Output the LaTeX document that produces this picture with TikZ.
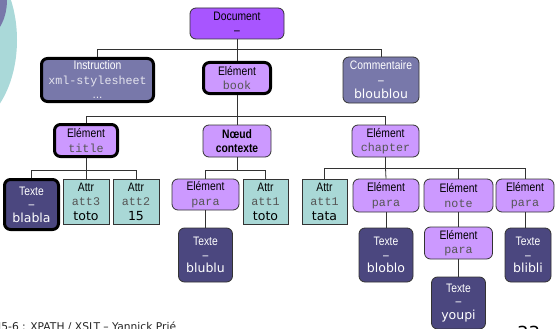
\documentclass[tikz,border=0pt]{standalone}
\usepackage{fontspec}
\setmainfont{Liberation Sans}
\newfontfamily\labfont[FakeStretch=0.84]{Liberation Sans}
\newfontfamily\codefont{Liberation Mono}
\newfontfamily\valfont{DejaVu Sans}

\definecolor{docfill}{HTML}{A855FF}
\definecolor{elemfill}{HTML}{CC99FF}
\definecolor{slatefill}{HTML}{7878AA}
\definecolor{navyfill}{HTML}{4B477F}
\definecolor{attrfill}{HTML}{A9D8D6}
\definecolor{tealdeco}{HTML}{AAD9D9}
\definecolor{boxline}{HTML}{333333}
\definecolor{codegrey}{HTML}{555555}
\definecolor{codelight}{HTML}{E4E4EE}

\newcommand\lbl[1]{{\labfont\fontsize{12.3}{14}\selectfont #1}}
\newcommand\lblb[1]{{\labfont\bfseries\fontsize{12.3}{14}\selectfont #1}}
\newcommand\code[1]{{\codefont\fontsize{11.7}{14}\selectfont #1}}
\newcommand\vtxt[1]{{\valfont\fontsize{12.5}{14}\selectfont #1}}

\tikzset{
  box/.style={draw=boxline, line width=0.8pt, rounded corners=6pt,
    inner sep=0pt, align=center, font=\fontsize{11.5}{14.5}\selectfont},
  heavy/.style={draw=black, line width=3pt},
  docbox/.style={box, fill=docfill},
  elembox/.style={box, fill=elemfill},
  slatebox/.style={box, fill=slatefill, text=white},
  textbox/.style={box, fill=navyfill, text=white},
  attrbox/.style={box, rounded corners=0pt, fill=attrfill},
  link/.style={draw=boxline, line width=0.8pt},
}

\begin{document}
\begin{tikzpicture}[x=1pt,y=-1pt]
\clip (0,0) rectangle (557,329);
\fill[white] (0,0) rectangle (557,329);

% corner decoration
\fill[tealdeco] (-40,40) ellipse [x radius=57, y radius=89];
\fill[slatefill] (-20,0) ellipse [x radius=27, y radius=40];

% bus levels
\coordinate (busA) at (0,49);
\coordinate (busB) at (0,116);
\coordinate (busC) at (0,170);
\coordinate (busD) at (0,168);

% level 0
\node[docbox, minimum width=94pt, minimum height=31pt] (doc) at (237,23.5)
  {\lbl{Document}\\\lbl{–}};

% level 1
\node[slatebox, heavy, minimum width=112pt, minimum height=43pt] (instr) at (97.5,80)
  {\lbl{Instruction}\\\textcolor{codelight}{\code{xml-stylesheet}}\\\lbl{…}};
\node[elembox, heavy, minimum width=67pt, minimum height=31pt] (book) at (237,78)
  {\lbl{Elément}\\\textcolor{codegrey}{\code{book}}};
\node[slatebox, minimum width=76pt, minimum height=46pt] (comm) at (381,80)
  {\lbl{Commentaire}\\\lbl{–}\\\vtxt{bloublou}};

% level 2
\node[elembox, heavy, minimum width=63pt, minimum height=32pt] (title) at (86,140.5)
  {\lbl{Elément}\\\textcolor{codegrey}{\code{title}}};
\node[elembox, minimum width=68pt, minimum height=32pt] (ctx) at (237,141)
  {\lblb{Nœud}\\\lblb{contexte}};
\node[elembox, minimum width=67pt, minimum height=32pt] (chap) at (385.5,141)
  {\lbl{Elément}\\\textcolor{codegrey}{\code{chapter}}};

% level 3
\node[textbox, heavy, minimum width=54pt, minimum height=50pt,
      font=\fontsize{11.5}{13.5}\selectfont] (tblabla) at (31.5,204.5)
  {\lbl{Texte}\\\lbl{–}\\\vtxt{blabla}};
\node[attrbox, minimum width=46pt, minimum height=45pt] (att3) at (86,201.5)
  {\lbl{Attr}\\\textcolor{codegrey}{\code{att3}}\\\vtxt{toto}};
\node[attrbox, minimum width=46pt, minimum height=45pt] (att2) at (136,201.5)
  {\lbl{Attr}\\\textcolor{codegrey}{\code{att2}}\\\vtxt{15}};
\node[elembox, minimum width=67pt, minimum height=31pt] (para1) at (205.5,194.5)
  {\lbl{Elément}\\\textcolor{codegrey}{\code{para}}};
\node[attrbox, minimum width=45pt, minimum height=45pt] (att1a) at (265.5,201.5)
  {\lbl{Attr}\\\textcolor{codegrey}{\code{att1}}\\\vtxt{toto}};
\node[attrbox, minimum width=45pt, minimum height=45pt] (att1b) at (324.5,201.5)
  {\lbl{Attr}\\\textcolor{codegrey}{\code{att1}}\\\vtxt{tata}};
\node[elembox, minimum width=66pt, minimum height=33pt] (para2) at (386,195.5)
  {\lbl{Elément}\\\textcolor{codegrey}{\code{para}}};
\node[elembox, minimum width=69pt, minimum height=33pt] (note) at (458.5,195.5)
  {\lbl{Elément}\\\textcolor{codegrey}{\code{note}}};
\node[elembox, minimum width=58pt, minimum height=33pt] (para3) at (525,195.5)
  {\lbl{Elément}\\\textcolor{codegrey}{\code{para}}};

% level 4
\node[textbox, minimum width=54pt, minimum height=54pt,
      font=\fontsize{11.5}{13.5}\selectfont] (tblublu) at (205.5,255)
  {\lbl{Texte}\\\lbl{–}\\\vtxt{blublu}};
\node[textbox, minimum width=54pt, minimum height=54pt,
      font=\fontsize{11.5}{13.5}\selectfont] (tbloblo) at (386,255)
  {\lbl{Texte}\\\lbl{–}\\\vtxt{bloblo}};
\node[elembox, minimum width=68pt, minimum height=32pt] (para4) at (458.5,243)
  {\lbl{Elément}\\\textcolor{codegrey}{\code{para}}};
\node[textbox, minimum width=46pt, minimum height=54pt,
      font=\fontsize{11.5}{13.5}\selectfont] (tblibli) at (528,255)
  {\lbl{Texte}\\\lbl{–}\\\vtxt{blibli}};
\node[textbox, minimum width=54pt, minimum height=52pt,
      font=\fontsize{11.5}{13.5}\selectfont] (tyoupi) at (458.5,303)
  {\lbl{Texte}\\\lbl{–}\\\vtxt{youpi}};

% connectors
\path[link] (doc.south) -- (doc.south |- busA) -| (instr.north);
\path[link] (doc.south |- busA) -| (comm.north);
\path[link] (doc.south |- busA) -- (book.north);

\path[link] (book.south) -- (book.south |- busB) -| (title.north);
\path[link] (book.south |- busB) -| (chap.north);
\path[link] (book.south |- busB) -- (ctx.north);

\path[link] (title.south) -- (title.south |- busC) -| (tblabla.north);
\path[link] (title.south |- busC) -| (att2.north);
\path[link] (title.south |- busC) -- (att3.north);

\path[link] (ctx.south) -- (ctx.south |- busC) -| (para1.north);
\path[link] (ctx.south |- busC) -| (att1a.north);

\path[link] (chap.south) -- (chap.south |- busD) -| (att1b.north);
\path[link] (chap.south |- busD) -| (para3.north);
\path[link] (chap.south |- busD) -| (note.north);
\path[link] (chap.south |- busD) -- (para2.north);

\path[link] (para1.south) -- (tblublu.north);
\path[link] (para2.south) -- (tbloblo.north);
\path[link] (note.south) -- (para4.north);
\path[link] (para4.south) -- (tyoupi.north);
\path[link] (para3.south) -- (para3.south |- tblibli.north);

% footer
\node[anchor=base west, inner sep=0pt, text=black!85,
      font=\valfont\fontsize{10.7}{12}\selectfont] (footer) at (-2,330)
  {I5-6 : XPATH / XSLT – Yannick Prié};
\node[anchor=base west, inner sep=0pt,
      font=\valfont\fontsize{18}{20}\selectfont] (pagenum) at (517,339) {33};
\end{tikzpicture}
\end{document}
